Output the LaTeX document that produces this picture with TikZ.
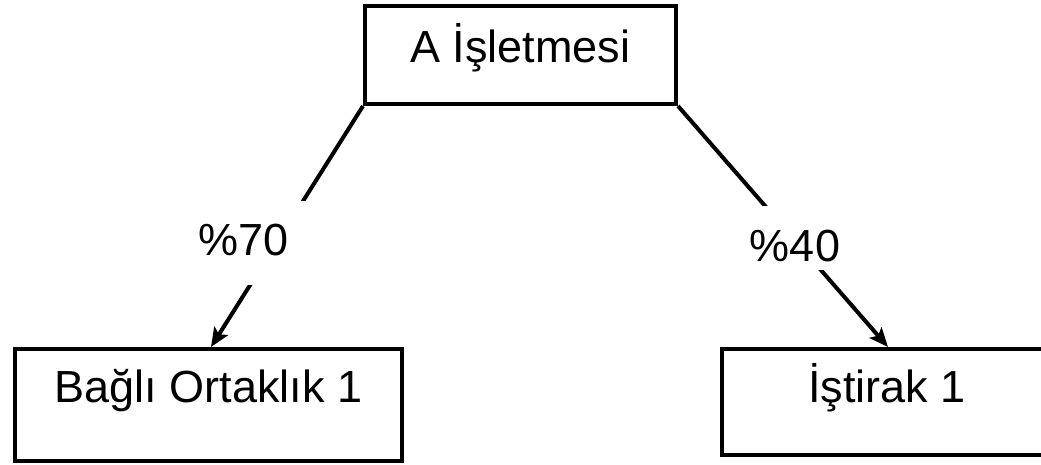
\documentclass[tikz,border=0pt]{standalone}
\usepackage{fontspec}
\setmainfont{Liberation Sans}
\usetikzlibrary{arrows.meta}
\begin{document}
\begin{tikzpicture}[x=1pt,y=-1pt]
\tikzset{
  box/.style={draw, line width=4pt, inner sep=0pt, anchor=base,
    font=\fontsize{45}{54}\selectfont},
  pct/.style={fill=white, inner sep=0pt, font=\fontsize{45}{54}\selectfont},
  conn/.style={draw, line width=4pt},
  tip/.style={-{Stealth[length=19pt,width=16pt,inset=4pt]}}
}
\useasboundingbox (0,0) rectangle (1041,464);
\node[box, minimum width=311pt, text height=56pt, text depth=42pt] (top) at (520.5,62) {A İşletmesi};
\node[box, minimum width=387pt, text height=53pt, text depth=59pt] (bagli) at (208.5,402) {Bağlı Ortaklık 1};
\node[box, minimum width=330pt, text height=53pt, text depth=53pt] (istirak) at (887,402) {İştirak 1};
\coordinate (lt) at (211,347);
\coordinate (rt) at (888,347);
\draw[conn, tip] (top.south west) -- (lt);
\draw[conn, tip] (top.south east) -- (rt);
\node[pct, anchor=base west, text width=120pt, align=left, text height=54pt, text depth=30pt] (p70) at (198,255) {\%70};
\node[pct, anchor=base, text height=55pt, text depth=9pt] (p40) at (795,261) {\%40};
\end{tikzpicture}
\end{document}
